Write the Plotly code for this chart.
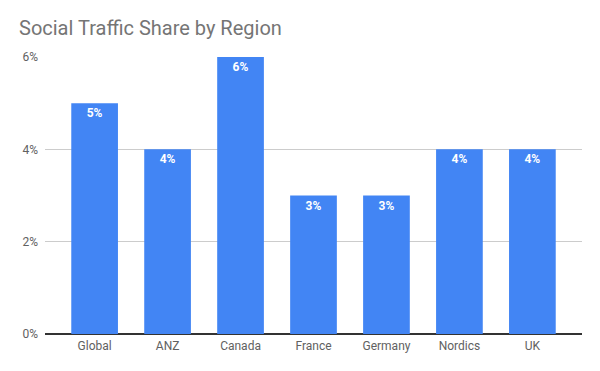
import plotly.graph_objects as go

regions = ["Global", "ANZ", "Canada", "France", "Germany", "Nordics", "UK"]
share = [0.05, 0.04, 0.06, 0.03, 0.03, 0.04, 0.04]
labels = ["5%", "4%", "6%", "3%", "3%", "4%", "4%"]
y_ticks = [0, 0.02, 0.04, 0.06]
y_tick_text = ["0%", "2%", "4%", "6%"]

# page body has an 8px default margin; compensate in layout
OFF = 8

fig = go.Figure(
    go.Bar(
        x=regions,
        y=share,
        text=labels,
        textposition="inside",
        insidetextanchor="end",
        textangle=0,
        textfont=dict(family="Roboto", size=12, color="white", weight="bold"),
        marker=dict(color="#4285F4", line=dict(width=0)),
        hoverinfo="skip",
    )
)

fig.update_layout(
    width=600,
    height=371,
    margin=dict(l=45 - OFF, r=18 + OFF, t=57 - OFF, b=37 + OFF),
    paper_bgcolor="white",
    plot_bgcolor="white",
    bargap=0.36,
    showlegend=False,
    title=dict(
        text="Social Traffic Share by Region",
        x=(19 - OFF) / 600,
        xanchor="left",
        y=1 - (28 - OFF) / 371,
        yanchor="middle",
        font=dict(family="Roboto", size=20, color="#757575"),
    ),
    font=dict(family="Roboto", color="#616161", size=12),
    uniformtext=dict(minsize=12, mode="show"),
)

fig.update_xaxes(
    range=[-0.68, 6.68],
    showgrid=False,
    showline=False,
    ticks="",
    ticklabelstandoff=3,
    tickfont=dict(size=12, color="#616161"),
)
fig.update_yaxes(
    range=[0, 0.06],
    tickvals=y_ticks,
    ticktext=y_tick_text,
    showgrid=True,
    gridcolor="#cccccc",
    gridwidth=1,
    zeroline=True,
    zerolinecolor="#333333",
    zerolinewidth=1.5,
    showline=False,
    ticks="",
    ticklabelstandoff=6,
    tickfont=dict(size=12, color="#616161"),
)

fig.write_html("out.html")
